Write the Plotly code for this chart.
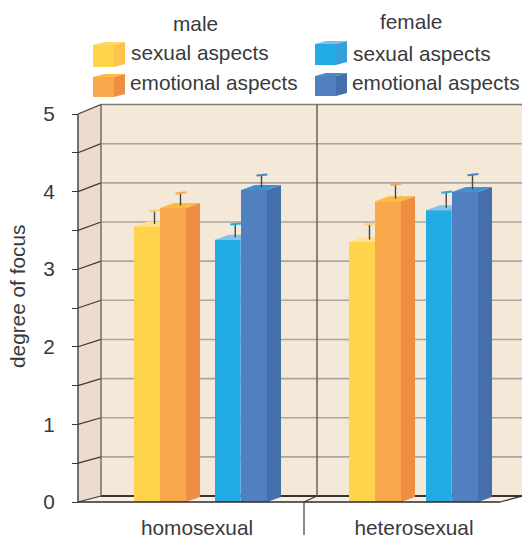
import plotly.graph_objects as go

# ---- data ----
groups = ["homosexual", "heterosexual"]
series = ["male sexual aspects", "male emotional aspects", "female sexual aspects", "female emotional aspects"]
hom_vals = [3.55, 3.79, 3.38, 4.02]
het_vals = [3.35, 3.875, 3.76, 3.995]
hom_errs = [0.17, 0.16, 0.17, 0.16]
het_errs = [0.20, 0.185, 0.20, 0.19]
y_ticks = [0, 0.5, 1, 1.5, 2, 2.5, 3, 3.5, 4, 4.5, 5]
y_labels = ["0", "", "1", "", "2", "", "3", "", "4", "", "5"]

# ---- layout constants (pixels of the 522x535 page) ----
W, H = 522, 535
Y0_PX = 502.0
PX_PER_UNIT = 77.6
BOTTOM_PX = 508
y_hi = Y0_PX / PX_PER_UNIT
y_lo = (Y0_PX - BOTTOM_PX) / PX_PER_UNIT
AXIS_X, WALL_X, SPLIT_FRONT, SPLIT_BACK, FLOOR_END = 78, 101, 304, 317, 500
FONT = "Liberation Sans, Arial, sans-serif"
TXT = "#3a3a3c"
FS = 20.8

def back(v):
    """front-plane value -> height at which it shows on the back wall"""
    return 0.077 + 1.009 * v

FRONT = ["#ffd44d", "#f9a94c", "#22ace3", "#5080c0"]
TOP = ["#ffe08c", "#fdba42", "#85c3ea", "#3f93d2"]
SIDE = ["#ffc24a", "#ee8d43", "#33a0dc", "#456faa"]
CAP = ["#fdcf6e", "#f9a94c", "#22ace3", "#4f82bd"]
BAR_LEFT = [[134, 160, 215, 241], [349, 375, 426, 452]]
BAR_W = [26, 26, 25.5, 26]
DX, DY = 14, 5 / PX_PER_UNIT

fig = go.Figure()

def poly(xs, ys, color):
    fig.add_trace(go.Scatter(x=xs + xs[:1], y=ys + ys[:1], mode="lines", fill="toself",
                             fillcolor=color, line=dict(width=0), hoverinfo="skip", showlegend=False))

def seg(xs, ys, color, width):
    fig.add_trace(go.Scatter(x=xs, y=ys, mode="lines", line=dict(color=color, width=width),
                             hoverinfo="skip", showlegend=False))

# walls and floor
poly([WALL_X, W, W, WALL_X], [back(0), back(0), back(5), back(5)], "#f4e8d9")
poly([AXIS_X, WALL_X, WALL_X, AXIS_X], [0, back(0), back(5), 5], "#ecdccd")
poly([AXIS_X, FLOOR_END, W, WALL_X], [0, 0, back(0), back(0)], "#f8f0e6")

for v in y_ticks[1:]:
    seg([WALL_X, W], [back(v), back(v)], "#a9a69f" if v < 5 else "#807c78", 1.6)
    seg([AXIS_X, WALL_X], [v, back(v)], "#3c3836", 1.2)
seg([WALL_X, W], [back(0), back(0)], "#3c322e", 2)
seg([AXIS_X, WALL_X], [0, back(0)], "#3c3836", 1.2)
seg([WALL_X, WALL_X], [back(0), back(5)], "#6b6662", 1.4)
seg([SPLIT_BACK, SPLIT_BACK], [back(0), back(5)], "#5e5954", 1.4)
seg([SPLIT_FRONT, SPLIT_BACK], [0, back(0)], "#3c3836", 1.2)
seg([AXIS_X, AXIS_X], [0, 5], "#3c3836", 1.4)

# bars
for g, (vals, errs) in enumerate([(hom_vals, hom_errs), (het_vals, het_errs)]):
    for i, (v, e) in enumerate(zip(vals, errs)):
        x0 = BAR_LEFT[g][i]
        x1 = x0 + BAR_W[i]
        poly([x1, x1 + DX, x1 + DX, x1], [0, DY, v + DY, v], SIDE[i])
        poly([x0, x1, x1 + DX, x0 + DX], [v, v, v + DY, v + DY], TOP[i])
        poly([x0, x1, x1, x0], [0, 0, v, v], FRONT[i])
    for i, (v, e) in enumerate(zip(vals, errs)):
        x0 = BAR_LEFT[g][i]
        sx = x0 + BAR_W[i] / 2 + 7.5
        base = v + DY / 2
        seg([sx, sx], [base, base + e], "#4a4846", 1.4)
        seg([sx - 5, sx + 6], [base + e - 0.006, base + e + 0.008], CAP[i], 2)

seg([AXIS_X, FLOOR_END], [0, 0], "#2e2a28", 1.6)
seg([FLOOR_END, W], [0, back(0)], "#2e2a28", 1.2)

shapes = [dict(type="line", xref="x", yref="paper", x0=SPLIT_FRONT, x1=SPLIT_FRONT,
               y0=0, y1=1 - Y0_PX / H, line=dict(color="#5e5954", width=1.4))]

def px(x): return x / W
def py(y): return 1 - y / H

def cube(x0, x1, xs, yt, yb, dy, i):
    def path(pts):
        return "M " + " L ".join(f"{px(a):.5f},{py(b):.5f}" for a, b in pts) + " Z"
    common = dict(type="path", xref="paper", yref="paper", line=dict(width=0), layer="above")
    shapes.append(dict(path=path([(x0, yt), (x1, yt), (xs, yt - dy), (x0 + xs - x1, yt - dy)]),
                       fillcolor=["#ffd96a", "#fdba42", "#7ec0e8", "#3f8fd0"][i], **common))
    shapes.append(dict(path=path([(x1, yt), (xs, yt - dy), (xs, yb - dy), (x1, yb)]),
                       fillcolor=SIDE[i], **common))
    shapes.append(dict(path=path([(x0, yt), (x1, yt), (x1, yb), (x0, yb)]),
                       fillcolor=FRONT[i], **common))

cube(93, 114, 125, 45, 67, 3, 0)
cube(93, 114, 125, 77, 97, 3, 1)
cube(315, 336, 347, 44, 65, 3, 2)
cube(315, 336, 347, 76, 96, 3, 3)

def label(text, x, y, anchor="left", angle=0):
    return dict(text=text, x=px(x), y=py(y), xref="paper", yref="paper", showarrow=False,
                xanchor=anchor, yanchor="middle", textangle=angle,
                font=dict(family=FONT, size=FS, color=TXT))

annotations = [
    label("male", 195, 24, "center"),
    label("female", 411, 21, "center"),
    label("sexual aspects", 129, 52),
    label("emotional aspects", 128, 83),
    label("sexual aspects", 351, 54),
    label("emotional aspects", 349.5, 83),
    label("degree of focus", 17, 297, "center", -90),
]

fig.update_layout(
    width=W, height=H, margin=dict(l=0, r=0, t=0, b=0), autosize=False,
    paper_bgcolor="white", plot_bgcolor="white", showlegend=False,
    shapes=shapes, annotations=annotations,
    font=dict(family=FONT, size=FS, color=TXT),
    xaxis=dict(domain=[0, 1], range=[0, W], showgrid=False, zeroline=False, showline=False,
               automargin=False, tickvals=[197, 414], ticktext=groups, ticks="", anchor="y",
               ticklabelstandoff=5, tickfont=dict(family=FONT, size=FS, color=TXT)),
    yaxis=dict(domain=[1 - BOTTOM_PX / H, 1], range=[y_lo, y_hi], showgrid=False, zeroline=False,
               automargin=False, showline=False, anchor="free", position=AXIS_X / W, tickvals=y_ticks, ticktext=y_labels,
               ticks="outside", ticklen=6, tickwidth=1.3, tickcolor="#3c3836", ticklabelstandoff=13,
               tickfont=dict(family=FONT, size=FS, color=TXT)),
)

fig.write_html("out.html", config=dict(displayModeBar=False), post_script="document.body.style.margin='0';")
